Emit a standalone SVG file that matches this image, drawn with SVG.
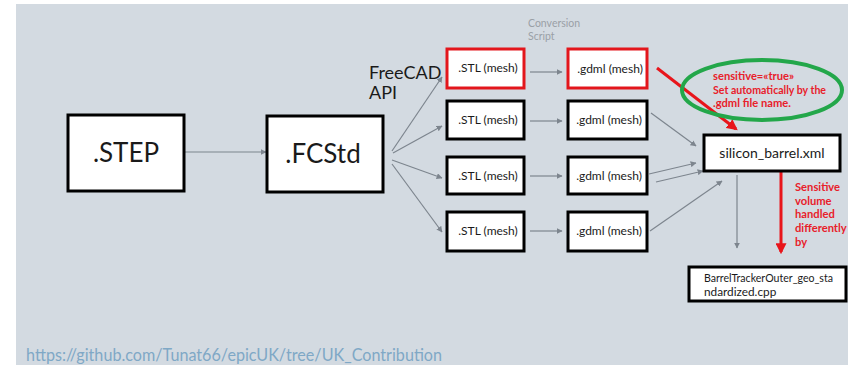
<svg xmlns="http://www.w3.org/2000/svg" width="848" height="365" viewBox="0 0 848 365">
  <style>
    .box { fill: #ffffff; stroke: #000000; stroke-width: 3; }
    .hot { fill: #ffffff; stroke: #e3161c; stroke-width: 3; }
    .lbl { font-family: Lato, "Open Sans", sans-serif; fill: #1a1a1a; text-anchor: middle; }
    .big { font-size: 26px; }
    .sm { font-size: 12px; }
    .link { fill: none; stroke: #7d858e; stroke-width: 1.2; }
    .red { font-family: Lato, "Open Sans", sans-serif; font-weight: bold; fill: #e8202a; font-size: 11.2px; }
  </style>
  <defs>
    <marker id="ah" viewBox="0 0 10 10" refX="9" refY="5" markerWidth="6" markerHeight="6" markerUnits="userSpaceOnUse" orient="auto">
      <path d="M0,0 L10,5 L0,10 z" fill="#7d858e"/>
    </marker>
    <marker id="ahr" viewBox="0 0 10 10" refX="8" refY="5" markerWidth="11" markerHeight="11" markerUnits="userSpaceOnUse" orient="auto">
      <path d="M0,0 L10,5 L0,10 z" fill="#e8151b"/>
    </marker>
  </defs>

  <!-- page background -->
  <rect x="0" y="0" width="848" height="365" fill="#ffffff"/>
  <rect x="16" y="4" width="832" height="361" fill="#d3dae1"/>

  <!-- free labels -->
  <text x="528" y="27" font-family="Lato, 'Open Sans', sans-serif" font-size="10.5" fill="#9aa0a6">Conversion</text>
  <text x="528" y="40" font-family="Lato, 'Open Sans', sans-serif" font-size="10.5" fill="#9aa0a6">Script</text>
  <text x="369" y="79" font-family="Lato, 'Open Sans', sans-serif" font-size="18" fill="#1a1a1a">FreeCAD</text>
  <text x="369" y="99" font-family="Lato, 'Open Sans', sans-serif" font-size="18" fill="#1a1a1a">API</text>
  <text x="26" y="361" font-family="Lato, 'Open Sans', sans-serif" font-size="16.5" fill="#7fa8c6" textLength="416" lengthAdjust="spacingAndGlyphs">https://github.com/Tunat66/epicUK/tree/UK_Contribution</text>

  <!-- connectors -->
  <g id="connectors">
    <line class="link" x1="184" y1="152" x2="266" y2="152" marker-end="url(#ah)"/>
    <line class="link" x1="392" y1="151" x2="442" y2="77" marker-end="url(#ah)"/>
    <line class="link" x1="393" y1="153" x2="442" y2="126" marker-end="url(#ah)"/>
    <line class="link" x1="392" y1="160" x2="442" y2="178" marker-end="url(#ah)"/>
    <line class="link" x1="392" y1="164" x2="442" y2="232" marker-end="url(#ah)"/>
    <line class="link" x1="530" y1="72" x2="562" y2="72" marker-end="url(#ah)"/>
    <line class="link" x1="530" y1="121" x2="562" y2="121" marker-end="url(#ah)"/>
    <line class="link" x1="530" y1="176" x2="562" y2="176" marker-end="url(#ah)"/>
    <line class="link" x1="530" y1="231" x2="562" y2="231" marker-end="url(#ah)"/>
    <line class="link" x1="651" y1="113" x2="696" y2="146" marker-end="url(#ah)"/>
    <line class="link" x1="649" y1="174" x2="696" y2="163" marker-end="url(#ah)"/>
    <line class="link" x1="656" y1="182" x2="703" y2="171" marker-end="url(#ah)"/>
    <line class="link" x1="650" y1="231" x2="722" y2="181" marker-end="url(#ah)"/>
    <line class="link" x1="737" y1="175" x2="737" y2="248" marker-end="url(#ah)"/>
    <line x1="657" y1="68" x2="736" y2="129" stroke="#e8151b" stroke-width="3" marker-end="url(#ahr)"/>
    <line x1="781" y1="172" x2="781" y2="252" stroke="#e8151b" stroke-width="3" marker-end="url(#ahr)"/>
  </g>

  <!-- nodes -->
  <g id="step">
    <rect class="box" x="68" y="115" width="116" height="76"/>
    <text class="lbl big" x="126" y="162">.STEP</text>
  </g>
  <g id="fcstd">
    <rect class="box" x="267" y="116" width="116" height="76"/>
    <text class="lbl big" x="323" y="163">.FCStd</text>
  </g>

  <g id="stl1">
    <rect class="hot" x="447" y="49" width="77" height="39"/>
    <text class="lbl sm" x="488" y="72">.STL (mesh)</text>
  </g>
  <g id="gdml1">
    <rect class="hot" x="568" y="49" width="79" height="39"/>
    <text class="lbl sm" x="610" y="73">.gdml (mesh)</text>
  </g>
  <g id="stl2">
    <rect class="box" x="447" y="101" width="77" height="38"/>
    <text class="lbl sm" x="488" y="124">.STL (mesh)</text>
  </g>
  <g id="gdml2">
    <rect class="box" x="568" y="101" width="79" height="38"/>
    <text class="lbl sm" x="609" y="124">.gdml (mesh)</text>
  </g>
  <g id="stl3">
    <rect class="box" x="447" y="157" width="77" height="37"/>
    <text class="lbl sm" x="488" y="180">.STL (mesh)</text>
  </g>
  <g id="gdml3">
    <rect class="box" x="568" y="157" width="79" height="37"/>
    <text class="lbl sm" x="609" y="180">.gdml (mesh)</text>
  </g>
  <g id="stl4">
    <rect class="box" x="447" y="212" width="77" height="39"/>
    <text class="lbl sm" x="488" y="235">.STL (mesh)</text>
  </g>
  <g id="gdml4">
    <rect class="box" x="568" y="212" width="79" height="39"/>
    <text class="lbl sm" x="609" y="235">.gdml (mesh)</text>
  </g>

  <g id="silicon-barrel">
    <rect class="box" x="704" y="135" width="136" height="36"/>
    <text class="lbl" x="772" y="158" font-size="14">silicon_barrel.xml</text>
  </g>

  <g id="barrel-tracker">
    <rect class="box" x="689" y="267" width="157" height="34"/>
    <text x="704" y="282" font-family="Lato, 'Open Sans', sans-serif" font-size="11.8" fill="#1a1a1a" textLength="129" lengthAdjust="spacingAndGlyphs">BarrelTrackerOuter_geo_sta</text>
    <text x="704" y="296" font-family="Lato, 'Open Sans', sans-serif" font-size="11.8" fill="#1a1a1a">ndardized.cpp</text>
  </g>

  <g id="sensitive-note">
    <ellipse cx="762" cy="90" rx="80" ry="30" fill="none" stroke="#23a74a" stroke-width="4"/>
    <text class="red" x="713" y="80">sensitive=«true»</text>
    <text class="red" x="713" y="94" textLength="113" lengthAdjust="spacingAndGlyphs">Set automatically by the</text>
    <text class="red" x="713" y="107">.gdml file name.</text>
  </g>

  <g id="handling-note">
    <text class="red" x="795" y="191">Sensitive</text>
    <text class="red" x="795" y="205">volume</text>
    <text class="red" x="795" y="218">handled</text>
    <text class="red" x="795" y="232">differently</text>
    <text class="red" x="795" y="246">by</text>
  </g>
</svg>
